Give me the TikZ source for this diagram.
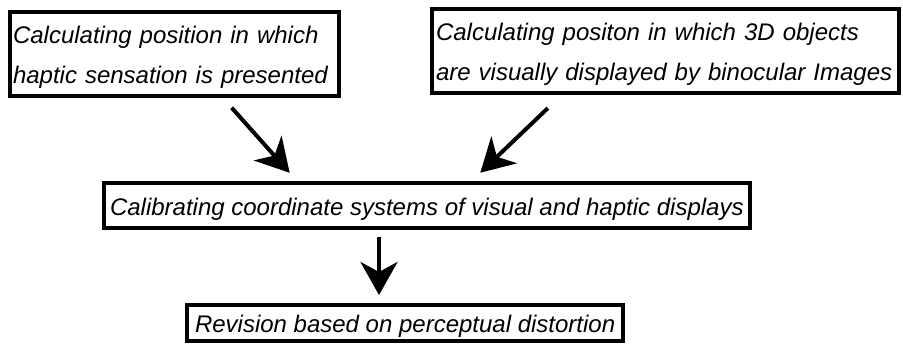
\documentclass[tikz,border=0pt]{standalone}
\usepackage{fontspec}
\setmainfont{Liberation Sans}
\usetikzlibrary{arrows.meta,positioning}

\begin{document}
\begin{tikzpicture}[
    x=1pt, y=-1pt,
    stage/.style={draw, line width=4pt, anchor=north west, align=left, inner ysep=2pt, text height=24pt, font=\fontsize{24}{40}\selectfont\itshape},
    flow/.style={line width=4pt, -{Stealth[length=33pt, width=37pt, inset=10pt]}}
]
\useasboundingbox (0,0) rectangle (903,345);

\node[stage, inner xsep=3pt, text width=323pt, minimum height=84pt] (haptic) at (8,10) {Calculating position in which\\haptic sensation is presented};
\node[stage, inner xsep=4pt, text width=459pt, minimum height=84pt] (visual) at (430,7) {Calculating positon in which 3D objects\\\mbox{are visually displayed by binocular Images}};
\node[stage, inner xsep=6pt, minimum height=45pt] (calib) at (102,181) {Calibrating coordinate systems of visual and haptic displays};
\node[stage, inner xsep=8pt, minimum height=36pt] (revision) at (185,303) {Revision based on perceptual distortion};

% Connections
\draw[flow, shorten <=13pt, shorten >=11pt] ([xshift=48.5pt]haptic.south) -- ([xshift=195pt]calib.north west);
\draw[flow, shorten <=19pt, shorten >=12pt] ([xshift=131.6pt]visual.south west) -- ([xshift=369.6pt]calib.north west);
\draw[flow, shorten <=7pt, shorten >=8pt] ([xshift=277pt]calib.south west) -- ([xshift=194pt]revision.north west);

\end{tikzpicture}
\end{document}
